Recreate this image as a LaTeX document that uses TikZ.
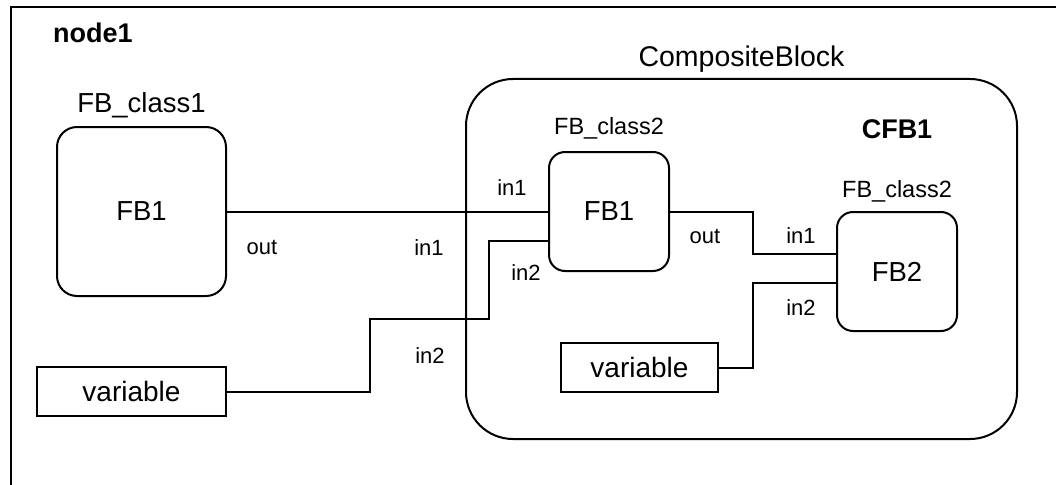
\documentclass[tikz,border=0pt]{standalone}
\usepackage{fontspec}
\setmainfont{Liberation Sans}
\begin{document}
\begin{tikzpicture}[x=1pt,y=-1pt, line width=2pt,
  fbbox/.style={draw, rounded corners=#1, inner sep=0pt, font=\fontsize{27.5}{30}\selectfont},
  varbox/.style={draw, inner sep=0pt, minimum height=49pt, font=\fontsize{28}{30}\selectfont},
  title/.style={anchor=base, inner sep=0pt, font=\fontsize{27.5}{30}\selectfont},
  btitle/.style={anchor=base, inner sep=0pt, font=\fontsize{27}{30}\selectfont\bfseries},
  cls/.style={anchor=base, inner sep=0pt, font=\fontsize{23.5}{26}\selectfont},
  port/.style={anchor=base, inner sep=0pt, font=\fontsize{22}{24}\selectfont},
  wire/.style={draw, line width=2pt}]
\useasboundingbox (0,0) rectangle (1056,484);
\clip (0,0) rectangle (1056,484);
% outer frame of node1
\node[draw, line width=2pt, anchor=north west, minimum width=1100pt, minimum height=520pt, inner sep=0pt] (frame) at (9.5,6.5) {};
\node[btitle] (tnode1) at (93,43) {node1};
% left function block
\node[title] (tcls1) at (141.5,113) {FB\_class1};
\node[fbbox=20pt, minimum width=169pt, minimum height=169pt] (fbA) at (141.5,211.5) {FB1};
\node[varbox, minimum width=189pt] (varA) at (131.5,391.5) {variable};
% composite block
\node[title, font=\fontsize{28.5}{30}\selectfont] (tcomp) at (741.5,67) {CompositeBlock};
\node[draw, rounded corners=47pt, minimum width=551pt, minimum height=360pt, inner sep=0pt] (comp) at (741.5,259) {};
\node[btitle] (tcfb) at (897,138) {CFB1};
\node[cls] (tcls2a) at (609,135) {FB\_class2};
\node[fbbox=16pt, minimum width=120pt, minimum height=119pt] (fbB) at (609,211.5) {FB1};
\node[cls] (tcls2b) at (897,197) {FB\_class2};
\node[fbbox=16pt, minimum width=120pt, minimum height=119pt] (fbC) at (897,271.5) {FB2};
\node[varbox, minimum width=157pt] (varB) at (639.5,367.5) {variable};
% wires
\coordinate (jA) at (489,241);
\coordinate (jB) at (837,254);
\coordinate (jC) at (837,283);
\draw (fbA.east) -- (fbB.west);
\draw (varA.east) -- (370,391.5) -- (370,319) -- (489,319) -- (jA) -- (jA -| fbB.west);
\draw (fbB.east) -- (753,211.5) -- (753,254) -- (jB -| fbC.west);
\draw (varB.east) -- (753,367.5) -- (753,283) -- (jC -| fbC.west);
% port labels
\node[port] (pOutA) at (262,254) {out};
\node[port] (pIn1A) at (429,255) {in1};
\node[port] (pIn2A) at (430,363) {in2};
\node[port] (pIn1B) at (512,195) {in1};
\node[port] (pIn2B) at (526,280) {in2};
\node[port] (pOutB) at (705,243) {out};
\node[port] (pIn1C) at (801,243) {in1};
\node[port] (pIn2C) at (801,315) {in2};
\end{tikzpicture}
\end{document}
